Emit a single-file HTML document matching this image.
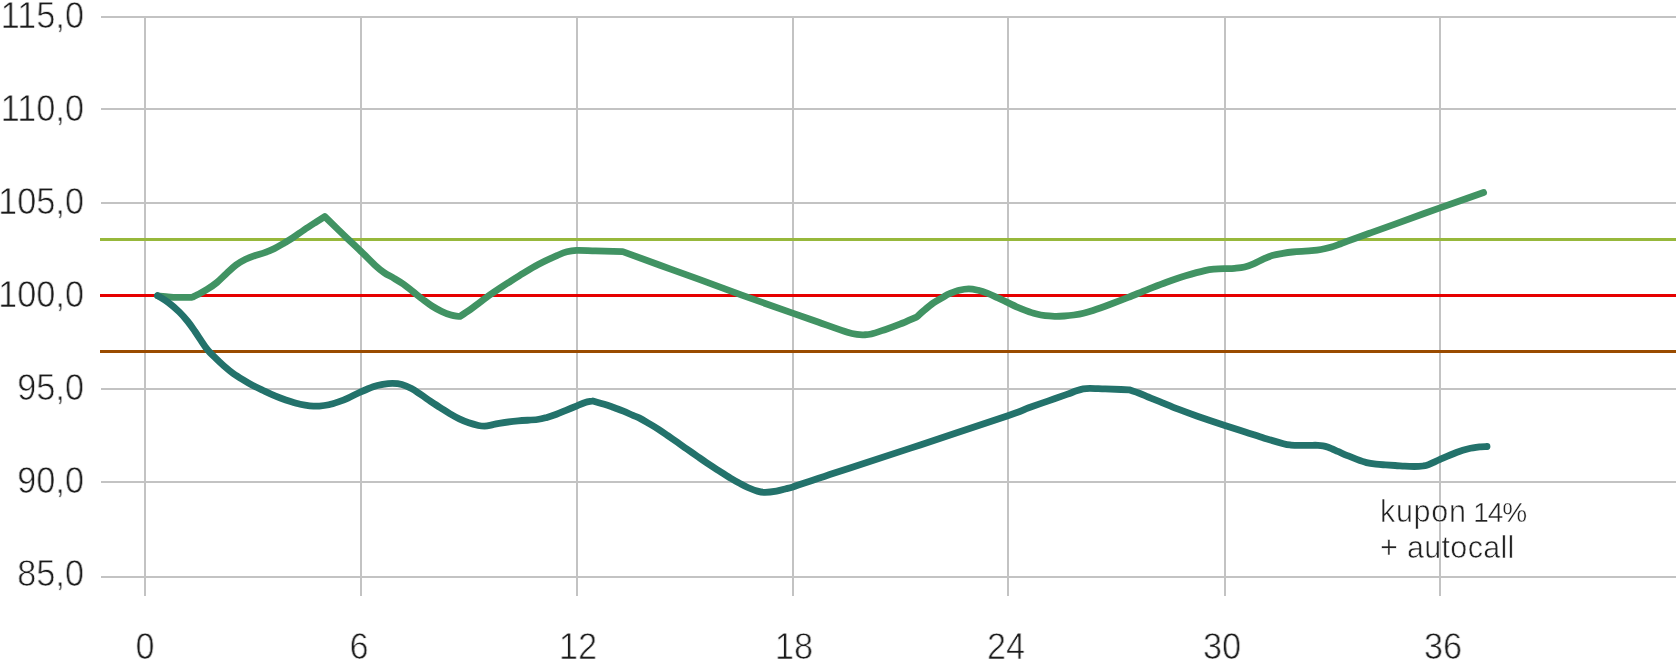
<!DOCTYPE html>
<html><head><meta charset="utf-8"><title>chart</title>
<style>
html,body{margin:0;padding:0;background:#fff}
body{width:1676px;height:659px;position:relative;overflow:hidden;font-family:"Liberation Sans",sans-serif;color:#1a1a1a}
.g{position:absolute;background:#c3c3c3}
.yl{-webkit-text-stroke:0.75px #fff;position:absolute;left:-16px;width:100px;text-align:right;font-size:37.8px;line-height:50px;height:50px;white-space:nowrap;transform:scaleX(0.909);transform-origin:100% 50%;will-change:transform}
.xl{-webkit-text-stroke:0.75px #fff;position:absolute;top:621px;width:100px;text-align:center;font-size:37.8px;line-height:50px;height:50px;white-space:nowrap;transform:scaleX(0.909);transform-origin:50% 50%;will-change:transform}
.a1{font-size:30.5px;letter-spacing:0.7px;-webkit-text-stroke:0.6px #fff}.a2{font-size:28px;letter-spacing:-1.1px;-webkit-text-stroke:0.4px #fff}.a3{font-size:30.5px;letter-spacing:0.33px;-webkit-text-stroke:0.6px #fff}
.an{-webkit-text-stroke:0.7px #fff;position:absolute;left:1380px;font-size:29px;line-height:36px;white-space:nowrap;color:#222;will-change:transform}
</style></head><body>
<div class="g" style="left:101px;top:16px;width:1575px;height:2px"></div>
<div class="g" style="left:101px;top:108px;width:1575px;height:2px"></div>
<div class="g" style="left:101px;top:202px;width:1575px;height:2px"></div>
<div class="g" style="left:101px;top:388px;width:1575px;height:2px"></div>
<div class="g" style="left:101px;top:481px;width:1575px;height:2px"></div>
<div class="g" style="left:101px;top:576px;width:1575px;height:2px"></div>
<div class="g" style="left:144px;top:16px;width:2px;height:580px"></div>
<div class="g" style="left:360px;top:16px;width:2px;height:580px"></div>
<div class="g" style="left:576px;top:16px;width:2px;height:580px"></div>
<div class="g" style="left:792px;top:16px;width:2px;height:580px"></div>
<div class="g" style="left:1007px;top:16px;width:2px;height:580px"></div>
<div class="g" style="left:1224px;top:16px;width:2px;height:580px"></div>
<div class="g" style="left:1439px;top:16px;width:2px;height:580px"></div>
<div style="position:absolute;left:100px;top:238px;width:1576px;height:3px;background:#97b83b"></div>
<div style="position:absolute;left:100px;top:294px;width:1576px;height:3px;background:#e60000"></div>
<div style="position:absolute;left:100px;top:350px;width:1576px;height:3px;background:#9a4b00"></div>
<div class="yl" style="top:-10px">115,0</div>
<div class="yl" style="top:83px">110,0</div>
<div class="yl" style="top:176px">105,0</div>
<div class="yl" style="top:269px">100,0</div>
<div class="yl" style="top:362px">95,0</div>
<div class="yl" style="top:455px">90,0</div>
<div class="yl" style="top:548px">85,0</div>
<div class="xl" style="left:94.6px">0</div>
<div class="xl" style="left:309.0px">6</div>
<div class="xl" style="left:528.2px">12</div>
<div class="xl" style="left:743.9px">18</div>
<div class="xl" style="left:956.3px">24</div>
<div class="xl" style="left:1172.2px">30</div>
<div class="xl" style="left:1392.6px">36</div>
<svg width="1676" height="659" viewBox="0 0 1676 659" style="position:absolute;left:0;top:0"><path d="M157.6 295.8 C161.1 296.1 164.5 296.5 168.0 296.8 C171.5 297.1 174.7 297.3 178.7 297.4 C182.7 297.5 187.6 297.3 192.0 297.3 C193.9 296.4 195.2 295.9 197.8 294.5 C200.4 293.1 204.2 291.2 207.4 289.2 C210.6 287.2 213.7 285.1 216.9 282.5 C220.1 279.9 223.3 276.4 226.5 273.5 C229.7 270.6 232.8 267.4 236.0 265.0 C239.2 262.6 242.4 260.9 245.6 259.3 C248.8 257.7 252.0 256.6 255.2 255.5 C258.4 254.4 261.5 253.8 264.7 252.6 C267.9 251.4 271.1 250.1 274.3 248.6 C277.5 247.1 280.6 245.2 283.8 243.3 C287.0 241.4 290.0 239.7 293.4 237.4 C296.8 235.1 300.5 232.3 304.3 229.7 C308.1 227.1 313.0 224.0 316.4 221.8 C319.8 219.6 321.9 218.3 324.7 216.5 C328.8 220.5 333.3 224.9 336.9 228.4 C340.5 231.9 342.5 233.9 346.5 237.7 C350.5 241.5 356.1 246.6 360.8 251.2 C365.6 255.8 371.1 261.6 375.0 265.2 C378.9 268.8 381.0 270.5 384.1 272.6 C387.2 274.8 390.5 276.2 393.7 278.1 C396.9 280.0 400.0 281.8 403.2 284.0 C406.4 286.2 409.6 289.0 412.8 291.5 C416.0 294.0 419.2 296.7 422.4 299.1 C425.6 301.5 428.7 304.0 431.9 306.0 C435.1 308.0 438.3 309.8 441.5 311.3 C444.7 312.8 448.5 314.2 451.0 315.0 C453.5 315.8 455.0 316.0 456.5 316.2 C458.0 316.4 458.9 316.3 460.1 316.3 C463.5 314.1 466.9 311.9 470.2 309.6 C473.5 307.3 476.5 304.9 479.7 302.5 C482.9 300.1 486.1 297.6 489.3 295.3 C492.5 293.0 495.6 290.9 498.8 288.8 C502.0 286.7 505.0 284.8 508.4 282.6 C511.8 280.4 514.1 278.8 519.1 275.8 C524.1 272.8 531.8 267.9 538.2 264.5 C544.6 261.1 552.6 257.5 557.4 255.4 C562.2 253.3 563.7 252.6 566.9 251.8 C570.1 251.0 571.7 250.6 576.5 250.4 C581.3 250.2 587.9 250.7 595.6 250.9 C603.3 251.1 613.7 251.4 622.7 251.6 C635.1 256.1 647.5 260.6 660.0 265.2 C672.5 269.8 684.2 273.9 697.8 278.9 C711.4 283.9 726.0 289.4 741.8 295.1 C757.6 300.8 779.8 308.6 792.6 313.1 C805.4 317.6 809.6 319.1 818.7 322.3 C827.8 325.5 841.0 330.3 847.4 332.3 C853.8 334.3 854.2 334.0 856.9 334.4 C859.6 334.8 861.2 334.9 863.6 334.8 C866.0 334.7 867.6 334.9 871.3 334.0 C875.0 333.1 880.8 331.0 885.6 329.4 C890.4 327.8 894.7 326.3 899.9 324.2 C905.1 322.1 911.3 319.3 917.0 316.8 C919.3 314.7 921.1 312.9 923.8 310.6 C926.5 308.3 930.2 305.1 933.4 302.9 C936.6 300.7 940.3 298.7 943.0 297.2 C945.7 295.7 946.9 294.8 949.6 293.7 C952.3 292.6 955.9 291.1 959.1 290.3 C962.3 289.5 965.5 288.9 968.7 288.9 C971.9 288.9 975.0 289.6 978.2 290.3 C981.4 291.1 984.6 292.2 987.8 293.4 C991.0 294.6 994.0 296.1 997.4 297.7 C1000.8 299.2 1004.7 301.2 1007.9 302.7 C1011.1 304.2 1013.5 305.5 1016.5 306.8 C1019.5 308.1 1022.8 309.4 1026.0 310.6 C1029.2 311.8 1032.4 313.0 1035.6 313.8 C1038.8 314.6 1042.0 315.3 1045.2 315.7 C1048.4 316.1 1051.5 316.2 1054.7 316.3 C1057.9 316.4 1061.1 316.2 1064.3 316.0 C1067.5 315.8 1070.6 315.5 1073.8 315.0 C1077.0 314.5 1080.2 314.0 1083.4 313.2 C1086.6 312.4 1088.7 311.8 1093.0 310.4 C1097.3 309.0 1103.2 306.9 1109.1 304.7 C1115.0 302.5 1121.8 299.9 1128.2 297.4 C1134.6 294.9 1141.0 292.1 1147.4 289.6 C1153.8 287.1 1160.1 284.5 1166.5 282.2 C1172.9 279.9 1179.2 277.7 1185.6 275.8 C1192.0 273.9 1199.9 271.7 1204.7 270.6 C1209.5 269.5 1211.0 269.4 1214.3 269.1 C1217.6 268.8 1221.4 268.7 1224.8 268.6 C1228.2 268.5 1231.2 268.6 1234.5 268.3 C1237.8 268.0 1241.3 267.8 1244.6 267.0 C1247.9 266.2 1250.9 265.0 1254.1 263.6 C1257.3 262.2 1260.5 260.3 1263.7 258.9 C1266.9 257.5 1270.0 256.2 1273.2 255.3 C1276.4 254.4 1279.6 254.0 1282.8 253.4 C1286.0 252.8 1289.2 252.3 1292.4 252.0 C1295.6 251.7 1298.7 251.5 1301.9 251.3 C1305.1 251.1 1308.3 251.0 1311.5 250.7 C1314.7 250.4 1317.8 250.1 1321.0 249.5 C1324.2 248.9 1327.4 248.1 1330.6 247.2 C1333.8 246.3 1337.0 245.1 1340.2 244.0 C1343.4 242.9 1344.9 242.2 1349.7 240.4 C1354.5 238.7 1361.2 236.2 1368.8 233.5 C1376.3 230.8 1383.2 228.4 1395.0 224.1 C1406.8 219.8 1425.1 213.2 1439.9 207.9 C1454.7 202.6 1469.0 197.6 1483.6 192.5" fill="none" stroke="#419363" stroke-width="6.8" stroke-linecap="round" stroke-linejoin="round"/><path d="M157.6 295.6 C161.1 297.8 164.4 299.6 168.0 302.3 C171.6 305.0 175.9 308.7 179.2 311.9 C182.5 315.1 185.2 318.3 187.8 321.5 C190.4 324.7 192.5 327.8 194.7 331.0 C196.9 334.2 199.1 337.6 201.1 340.6 C203.1 343.6 204.7 346.3 206.9 349.0 C209.1 351.7 211.3 353.9 214.1 356.7 C216.9 359.5 220.5 363.0 223.7 365.8 C226.9 368.6 230.0 371.2 233.2 373.5 C236.4 375.8 239.6 377.7 242.8 379.6 C246.0 381.6 249.2 383.5 252.4 385.2 C255.6 386.9 258.7 388.4 261.9 389.9 C265.1 391.4 268.3 393.0 271.5 394.4 C274.7 395.8 277.8 397.1 281.0 398.3 C284.2 399.5 287.4 400.6 290.6 401.6 C293.8 402.6 297.0 403.6 300.2 404.3 C303.4 405.0 306.5 405.5 309.7 405.8 C312.9 406.1 316.1 406.3 319.3 406.1 C322.5 405.9 325.6 405.5 328.8 404.8 C332.0 404.1 335.2 403.0 338.4 401.9 C341.6 400.8 344.3 399.8 348.0 398.1 C351.7 396.4 356.6 393.8 360.8 391.9 C365.0 390.0 369.5 388.0 373.2 386.7 C376.9 385.4 379.6 384.9 382.8 384.3 C386.0 383.8 389.2 383.4 392.4 383.4 C395.6 383.4 398.7 383.6 401.9 384.5 C405.1 385.4 408.3 386.9 411.5 388.6 C414.7 390.3 417.8 392.6 421.0 394.7 C424.2 396.8 427.4 399.2 430.6 401.4 C433.8 403.5 437.0 405.6 440.2 407.6 C443.4 409.6 446.5 411.7 449.7 413.6 C452.9 415.5 456.1 417.3 459.3 418.8 C462.5 420.3 465.6 421.7 468.8 422.8 C472.0 423.9 475.8 424.9 478.4 425.5 C481.0 426.1 482.4 426.2 484.5 426.2 C486.6 426.1 488.6 425.7 491.0 425.2 C493.4 424.7 494.6 424.0 499.1 423.3 C503.6 422.6 511.8 421.5 518.2 420.9 C524.6 420.3 532.6 420.1 537.4 419.5 C542.2 418.9 543.7 418.3 546.9 417.4 C550.1 416.5 553.3 415.4 556.5 414.2 C559.7 413.0 562.6 411.7 566.0 410.3 C569.4 408.9 573.8 407.1 577.0 405.8 C580.2 404.5 582.6 403.2 585.2 402.4 C587.8 401.6 590.3 401.5 592.8 401.0 C596.6 402.1 600.8 403.2 604.3 404.3 C607.8 405.4 610.6 406.4 613.8 407.5 C617.0 408.6 620.2 409.9 623.4 411.2 C626.6 412.5 630.4 414.3 633.0 415.4 C635.6 416.5 636.5 416.6 639.1 417.9 C641.7 419.2 645.5 421.5 648.7 423.4 C651.9 425.3 655.0 427.1 658.2 429.1 C661.4 431.1 664.6 433.4 667.8 435.6 C671.0 437.8 674.2 440.1 677.4 442.3 C680.6 444.5 683.7 446.8 686.9 449.0 C690.1 451.2 693.3 453.5 696.5 455.7 C699.7 457.9 702.2 459.8 706.0 462.3 C709.8 464.8 715.3 468.4 719.1 470.8 C722.9 473.2 725.5 475.1 728.7 477.0 C731.9 478.9 735.0 480.8 738.2 482.5 C741.4 484.2 744.6 486.1 747.8 487.5 C751.0 488.9 754.5 490.3 757.4 491.1 C760.3 491.9 761.8 492.3 765.0 492.3 C768.2 492.3 773.0 491.7 776.5 491.1 C780.0 490.5 783.3 489.5 786.0 488.8 C788.7 488.1 789.7 487.9 792.9 486.9 C796.1 485.9 800.0 484.4 805.2 482.7 C810.4 480.9 816.8 478.8 824.3 476.4 C831.8 473.9 834.0 473.2 850.0 468.0 C866.0 462.8 894.0 453.6 920.3 444.9 C946.6 436.2 989.8 421.9 1007.9 415.7 C1026.0 409.5 1022.1 410.2 1028.7 407.8 C1035.4 405.4 1041.4 403.3 1047.8 401.1 C1054.2 398.9 1062.1 396.1 1066.9 394.4 C1071.7 392.7 1073.8 391.7 1076.5 390.8 C1079.2 389.9 1081.0 389.3 1083.2 388.9 C1085.4 388.5 1086.2 388.4 1089.9 388.4 C1093.6 388.4 1098.7 388.7 1105.2 388.9 C1111.7 389.1 1121.1 389.5 1129.1 389.8 C1132.3 390.9 1135.4 391.8 1138.6 393.0 C1141.8 394.2 1144.8 395.6 1148.2 397.0 C1151.6 398.4 1154.1 399.4 1159.1 401.4 C1164.1 403.4 1171.8 406.7 1178.2 409.2 C1184.6 411.7 1189.6 413.5 1197.4 416.2 C1205.2 418.9 1216.9 422.8 1224.9 425.4 C1232.9 428.0 1238.6 429.9 1245.2 432.0 C1251.8 434.1 1257.9 436.2 1264.3 438.2 C1270.7 440.1 1279.0 442.5 1283.4 443.7 C1287.9 444.9 1288.2 444.8 1291.0 445.1 C1293.8 445.4 1297.0 445.4 1300.0 445.4 C1303.0 445.4 1306.1 445.3 1309.1 445.3 C1312.1 445.3 1315.7 445.2 1318.0 445.3 C1320.3 445.4 1321.3 445.5 1323.0 445.8 C1324.7 446.1 1325.7 446.4 1328.2 447.3 C1330.7 448.2 1334.6 450.0 1337.8 451.4 C1341.0 452.8 1344.2 454.3 1347.4 455.6 C1350.6 456.9 1353.7 458.2 1356.9 459.4 C1360.1 460.6 1363.3 461.8 1366.5 462.6 C1369.7 463.4 1372.8 463.8 1376.0 464.2 C1379.2 464.6 1382.4 464.7 1385.6 464.9 C1388.8 465.1 1392.0 465.3 1395.2 465.5 C1398.4 465.7 1401.5 466.0 1404.7 466.2 C1407.9 466.4 1411.2 466.5 1414.3 466.5 C1417.3 466.5 1420.6 466.3 1423.0 466.0 C1425.4 465.7 1425.8 465.7 1428.6 464.6 C1431.4 463.5 1435.5 461.4 1440.1 459.4 C1444.7 457.4 1451.7 454.3 1456.4 452.5 C1461.1 450.7 1464.5 449.6 1468.5 448.7 C1472.5 447.8 1477.6 447.2 1480.7 446.8 C1483.8 446.4 1484.9 446.6 1487.0 446.5" fill="none" stroke="#23726b" stroke-width="6.8" stroke-linecap="round" stroke-linejoin="round"/></svg>
<div class="an" style="top:493px"><span class="a1">kupon</span><span class="a2"> 14%</span></div>
<div class="an" style="top:529px;left:1379.5px"><span class="a3">+ autocall</span></div>
</body></html>
